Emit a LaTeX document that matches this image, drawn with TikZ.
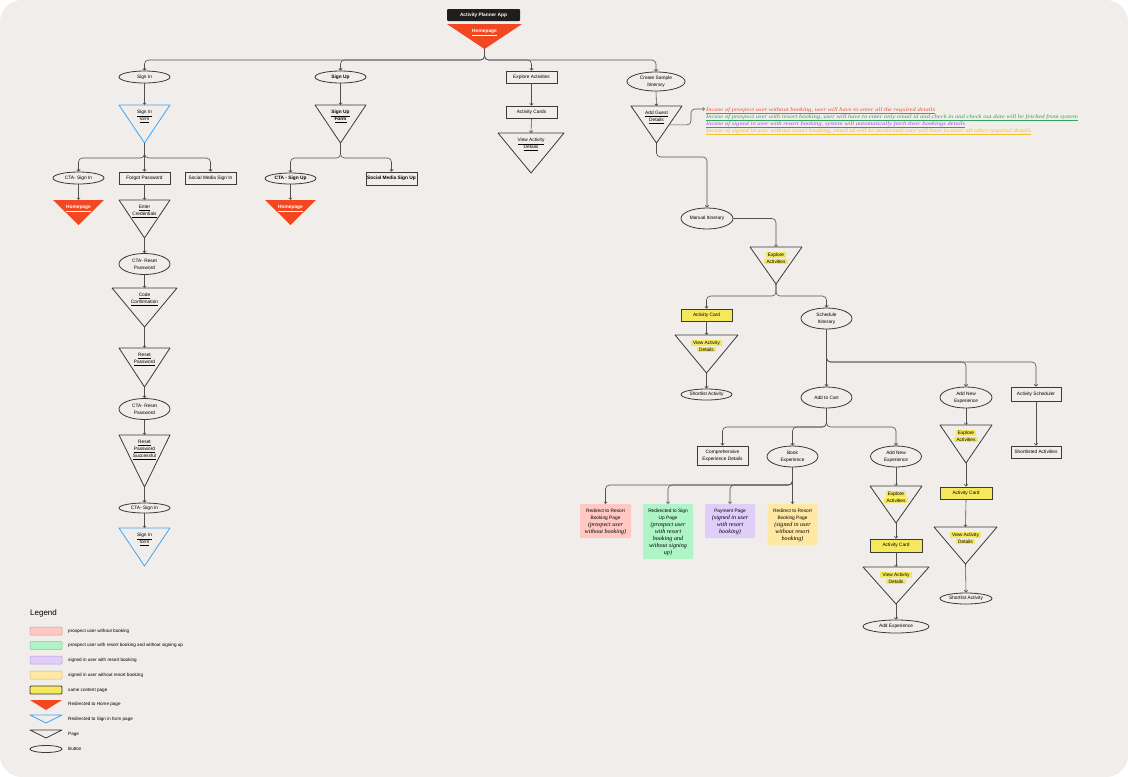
\documentclass[tikz,border=0pt]{standalone}
\usepackage{fontspec}
\setmainfont{Liberation Sans}
\newfontfamily\handfont{Liberation Serif}
\usetikzlibrary{arrows.meta,calc,shapes.geometric}

\definecolor{canvas}{HTML}{F1EDEA}
\definecolor{edge}{HTML}{3A3A3A}
\definecolor{wire}{HTML}{505050}
\definecolor{homered}{HTML}{F24822}
\definecolor{formblue}{HTML}{3DA5F4}
\definecolor{marker}{HTML}{F6E85C}
\definecolor{pinkbox}{HTML}{FFC8C2}
\definecolor{greenbox}{HTML}{AFF4C6}
\definecolor{purplebox}{HTML}{E0CDFA}
\definecolor{yellowbox}{HTML}{FFE8A3}
\definecolor{notered}{HTML}{E5533D}
\definecolor{notegreen}{HTML}{2FA55C}
\definecolor{notepurple}{HTML}{9A4DF0}
\definecolor{noteyellow}{HTML}{F0C233}
\definecolor{titlebg}{HTML}{1E1E1E}

\newcommand\bodyfont{\fontsize{4.8}{7}\selectfont}
\newcommand\handtext{\handfont\itshape\fontsize{6.1}{7}\selectfont}
\newcommand\notetext{\handfont\itshape\fontsize{5.4}{7}\selectfont}
\newcommand\undl[1]{\underline{#1}}
\newcommand\noteline[1]{\scalebox{1.22}[1]{\undl{#1}}}
\newcommand\hl[1]{{\setlength\fboxsep{0.8pt}\colorbox{marker}{\hspace{1.4pt}#1\hspace{1.4pt}}}}
\newcommand\homelabel{\textcolor{white}{\bfseries\undl{Homepage}}}

% inverted-triangle page: [style]{name}{x}{top}{width}{height}{text}
\newcommand\pagenode[7][pageline]{%
  \node[shell, minimum width=#5pt, minimum height=#6pt, anchor=north] (#2) at (#3,#4) {};
  \draw[#1] (#2.north west) -- (#2.north east) -- (#2.south) -- cycle;
  \node[anchor=north] (#2-txt) at ($(#2.north)+(0,5)$) {#7};
}
% coloured result page: {name}{colour}{x}{top}{width}{height}{text}
\newcommand\notebox[7]{%
  \node[shell, fill=#2, rounded corners=1pt, minimum width=#5pt, minimum height=#6pt, anchor=north] (#1) at (#3,#4) {};
  \node[anchor=north] (#1-txt) at ($(#1.north)+(0,5)$) {#7};
}

\tikzset{
  shell/.style={draw=none, inner sep=0pt, outer sep=0pt},
  pageline/.style={draw=edge, line width=0.8pt, line join=round},
  formline/.style={draw=formblue, line width=0.8pt, line join=round},
  homefill/.style={fill=homered, draw=none},
  btn/.style={ellipse, draw=edge, line width=0.8pt, minimum width=51pt, minimum height=12pt},
  box/.style={rectangle, draw=edge, line width=0.8pt, minimum width=51pt, minimum height=12pt},
  cardbox/.style={box, fill=marker},
  strong/.style={font=\bodyfont\bfseries},
  note/.style={anchor=base west, font=\notetext},
  swatch/.style={shell, minimum width=32pt, minimum height=8pt, rounded corners=1pt, line width=0.5pt},
  keytext/.style={anchor=west, font=\fontsize{4.6}{6}\selectfont},
  link/.style={draw=wire, line width=0.6pt, rounded corners=4pt, -{Straight Barb[length=1.8pt,width=3.4pt]}},
}

\begin{document}
\begin{tikzpicture}[x=1pt, y=-1pt, every node/.style={inner sep=0pt, align=center, font=\bodyfont}]
% canvas
\fill[white] (0,0) rectangle (1128,777);
\fill[canvas, rounded corners=22pt] (0,0) rectangle (1128,777);
\useasboundingbox (0,0) rectangle (1128,777);

% ---------- title and home ----------
\node[fill=titlebg, rounded corners=1pt, minimum width=73pt, minimum height=12pt, text=white, strong] (title) at (483.5,15) {Activity Planner App};
\pagenode[homefill]{home}{484.5}{24}{75}{25}{\homelabel}

\node[btn] (signin) at (144.5,77) {Sign In};
\node[btn, strong] (signup) at (340.5,77) {Sign Up};
\node[box] (explore) at (531.5,77) {Explore Activities};
\node[btn, minimum width=58pt, minimum height=19pt] (create) at (656,81.5) {Create Sample\\Itinerary};

% ---------- sign in ----------
\pagenode[formline]{signinform}{144.5}{105}{51}{38}{\undl{Sign In}\\\undl{form}}
\node[btn] (ctasignin) at (78.5,178) {CTA- Sign In};
\node[box] (forgot) at (144.5,178) {Forgot Password};
\node[box] (socialin) at (210.5,178) {Social Media Sign In};
\pagenode[homefill]{homeA}{78.5}{200}{51}{25}{\homelabel}
\pagenode{entercred}{144.5}{200}{51}{38}{\undl{Enter}\\\undl{Credentials}}
\node[btn, minimum height=21pt] (ctareset) at (144.5,264) {CTA- Reset\\Password};
\pagenode{codeconf}{144.5}{288}{65}{39}{\undl{Code}\\\undl{Confirmation}}
\pagenode{resetpw}{144.5}{348}{51}{39}{\undl{Reset}\\\undl{Password}}
\node[btn, minimum height=21pt] (ctaresetB) at (144.5,409) {CTA- Reset\\Password};
\pagenode{resetdone}{144.5}{435}{51}{52}{\undl{Reset}\\\undl{Password}\\\undl{Successful}}
\node[btn, minimum height=10pt] (ctasigninB) at (144.5,508) {CTA- Sign In};
\pagenode[formline]{signinformB}{144.5}{528}{51}{38}{\undl{Sign In}\\\undl{form}}

% ---------- sign up ----------
\pagenode{signupform}{340.5}{105}{51}{38}{{\bfseries\undl{Sign Up}}\\{\bfseries\undl{Form}}}
\node[btn, strong, minimum height=11pt] (ctasignup) at (290.5,178.5) {CTA - Sign Up};
\node[box, strong, minimum height=13pt] (socialup) at (391.5,178.5) {Social Media Sign Up};
\pagenode[homefill]{homeB}{290.5}{200}{51}{25}{\homelabel}

% ---------- explore ----------
\node[box] (cards) at (531.5,112) {Activity Cards};
\pagenode{viewdet}{531}{133}{66}{40}{\undl{View Activity}\\\undl{Details}}

% ---------- sample itinerary ----------
\pagenode{guest}{656.5}{106}{51}{37}{\undl{Add Guest}\\\undl{Details}}
\node[note, text=notered] (noteA) at (706,111) {\noteline{Incase of prospect user without booking, user will have to enter all the required details}};
\node[note, text=notegreen] (noteB) at (706,118) {\noteline{Incase of prospect user with resort booking, user will have to enter only email id and check in and check out date will be fetched from system}};
\node[note, text=notepurple] (noteC) at (706,125) {\noteline{Incase of signed in user with resort booking, system will automatically fetch their bookings details}};
\node[note, text=noteyellow] (noteD) at (706,132) {\noteline{Incase of signed in user without resort booking, email id will be mentioned user will have to enter all other required details}};

\node[btn, minimum width=52pt, minimum height=21pt] (manual) at (707,218.5) {Manual Itinerary};
\pagenode{exploreA}{776}{247}{52}{37}{\hl{Explore}\\\hl{Activities}}
\node[cardbox] (cardA) at (706.5,315) {Activity Card};
\node[btn, minimum height=21pt] (schedule) at (826.5,318.5) {Schedule\\Itinerary};
\pagenode{viewA}{706.5}{335}{63}{38}{\hl{View Activity}\\\hl{Details}}
\node[btn, minimum height=11pt] (shortA) at (706.5,394.5) {Shortlist Activity};
\node[btn, minimum height=21pt] (cart) at (826.5,397.5) {Add to Cart};

\node[btn, minimum width=52pt, minimum height=21pt] (newexpR) at (966,397.5) {Add New\\Experience};
\node[box, minimum width=50pt, minimum height=14pt] (scheduler) at (1036,394) {Activity Scheduler};
\node[box, minimum width=50pt] (shortlisted) at (1036,452) {Shortlisted Activities};
\pagenode{exploreR}{966}{425}{52}{38}{\hl{Explore}\\\hl{Activities}}
\node[cardbox, minimum width=52pt] (cardR) at (966,493) {Activity Card};
\pagenode{viewR}{965.5}{527}{63}{37}{\hl{View Activity}\\\hl{Details}}
\node[btn, minimum width=52pt, minimum height=11pt] (shortR) at (966,598.5) {Shortlist Activity};

\node[box, minimum height=19pt] (comp) at (722.5,455.5) {Comprehensive\\Experience Details};
\node[btn, minimum height=21pt] (book) at (792.5,456.5) {Book\\Experience};
\node[btn, minimum height=21pt] (newexpM) at (896,456.5) {Add New\\Experience};
\pagenode{exploreM}{896}{486}{52}{37}{\hl{Explore}\\\hl{Activities}}
\node[cardbox, minimum width=52pt, minimum height=13pt] (cardM) at (896,545.5) {Activity Card};
\pagenode{viewM}{896}{567}{66}{37}{\hl{View Activity}\\\hl{Details}}
\node[btn, minimum width=66pt, minimum height=13pt] (addexp) at (896,626.5) {Add Experience};

\notebox{pinkpg}{pinkbox}{605.5}{504}{51}{34}{Redirect to Resort\\Booking Page\\{\handtext (prospect user}\\{\handtext without booking)}}
\notebox{greenpg}{greenbox}{668}{504}{50}{55}{Redirected to Sign\\Up Page\\{\handtext (prospect user}\\{\handtext with resort}\\{\handtext booking and}\\{\handtext without signing}\\{\handtext up)}}
\notebox{purplepg}{purplebox}{730}{504}{50}{34}{Payment Page\\{\handtext (signed in user}\\{\handtext with resort}\\{\handtext booking)}}
\notebox{yellowpg}{yellowbox}{792.5}{504}{50}{41}{Redirect to Resort\\Booking Page\\{\handtext (signed in user}\\{\handtext without resort}\\{\handtext booking)}}

% ---------- connectors ----------
\coordinate (busTop) at (484.5,60);
\foreach \t in {signin,signup,explore,create} \draw[link] (home.south) -- (busTop) -| (\t.north);

\draw[link] (signin.south) -- (signinform.north);
\coordinate (busIn) at (144.5,158);
\draw[link] (signinform.south) -- (forgot.north);
\foreach \t in {ctasignin,socialin} \draw[link] (signinform.south) -- (busIn) -| (\t.north);
\draw[link] (ctasignin.south) -- (homeA.north);
\draw[link] (forgot.south) -- (entercred.north);
\draw[link] (entercred.south) -- (ctareset.north);
\draw[link] (ctareset.south) -- (codeconf.north);
\draw[link] (codeconf.south) -- (resetpw.north);
\draw[link] (resetpw.south) -- (ctaresetB.north);
\draw[link] (ctaresetB.south) -- (resetdone.north);
\draw[link] (resetdone.south) -- (ctasigninB.north);
\draw[link] (ctasigninB.south) -- (signinformB.north);

\draw[link] (signup.south) -- (signupform.north);
\coordinate (busUp) at (340.5,158);
\foreach \t in {ctasignup,socialup} \draw[link] (signupform.south) -- (busUp) -| (\t.north);
\draw[link] (ctasignup.south) -- (homeB.north);

\draw[link] (explore.south) -- (cards.north);
\draw[link] (cards.south) -- (viewdet.north);

\draw[link] (create.south) -- (guest.north);
\coordinate (guestside) at ($(guest.north east)!0.51!(guest.south)$);
\coordinate (notetip) at (705,109);
\draw[link] (guestside) -- ++(22,0) |- (notetip);
\coordinate (busGuest) at (656.5,157);
\draw[link] (guest.south) -- (busGuest) -| (manual.north);
\draw[link] (manual.east) -| (exploreA.north);
\coordinate (busExpA) at (776,296);
\foreach \t in {cardA,schedule} \draw[link] (exploreA.south) -- (busExpA) -| (\t.north);
\draw[link] (cardA.south) -- (viewA.north);
\draw[link] (viewA.south) -- (shortA.north);
\draw[link] (schedule.south) -- (cart.north);
\coordinate (busSched) at (826.5,362);
\foreach \t in {newexpR,scheduler} \draw[link] (schedule.south) -- (busSched) -| (\t.north);
\draw[link] (newexpR.south) -- (exploreR.north);
\draw[link] (exploreR.south) -- (cardR.north);
\draw[link] (cardR.south) -- (viewR.north);
\draw[link] (viewR.south) -- (shortR.north);
\draw[link] (scheduler.south) -- (shortlisted.north);

\coordinate (busCart) at (826.5,427);
\foreach \t in {comp,book,newexpM} \draw[link] (cart.south) -- (busCart) -| (\t.north);
\draw[link] (newexpM.south) -- (exploreM.north);
\draw[link] (exploreM.south) -- (cardM.north);
\draw[link] (cardM.south) -- (viewM.north);
\draw[link] (viewM.south) -- (addexp.north);

\coordinate (busBook) at (792.5,485);
\draw[link] (book.south) -- (yellowpg.north);
\foreach \t in {pinkpg,greenpg,purplepg} \draw[link] (book.south) -- (busBook) -| (\t.north);

% ---------- legend ----------
\node[anchor=west, font=\fontsize{8}{9}\selectfont] (legendtitle) at (30,613) {Legend};
\node[swatch, fill=pinkbox, draw=pinkbox!80!black] (keypink) at (46,631) {};
\node[keytext] (keypinkT) at (68,631) {prospect user without booking};
\node[swatch, fill=greenbox, draw=greenbox!80!black] (keygreen) at (46,645.5) {};
\node[keytext] (keygreenT) at (68,645.5) {prospect user with resort booking and without signing up};
\node[swatch, fill=purplebox, draw=purplebox!80!black] (keypurple) at (46,660) {};
\node[keytext] (keypurpleT) at (68,660) {signed in user with resort booking};
\node[swatch, fill=yellowbox, draw=yellowbox!80!black] (keyyellow) at (46,675) {};
\node[keytext] (keyyellowT) at (68,675) {signed in user without resort booking};
\node[swatch, fill=marker, draw=edge, line width=0.8pt] (keysame) at (46,690) {};
\node[keytext] (keysameT) at (68,690) {same content page};
\pagenode[homefill]{keyhome}{46}{700}{32}{10}{}
\node[keytext] (keyhomeT) at (68,704) {Redirected to Home page};
\pagenode[formline]{keyform}{46}{715}{32}{8}{}
\node[keytext] (keyformT) at (68,719) {Redirected to Sign in form page};
\pagenode{keypage}{46}{730}{32}{8}{}
\node[keytext] (keypageT) at (68,734) {Page};
\node[btn, minimum width=32pt, minimum height=7pt] (keybtn) at (46,749) {};
\node[keytext] (keybtnT) at (68,749) {Button};
\end{tikzpicture}
\end{document}
